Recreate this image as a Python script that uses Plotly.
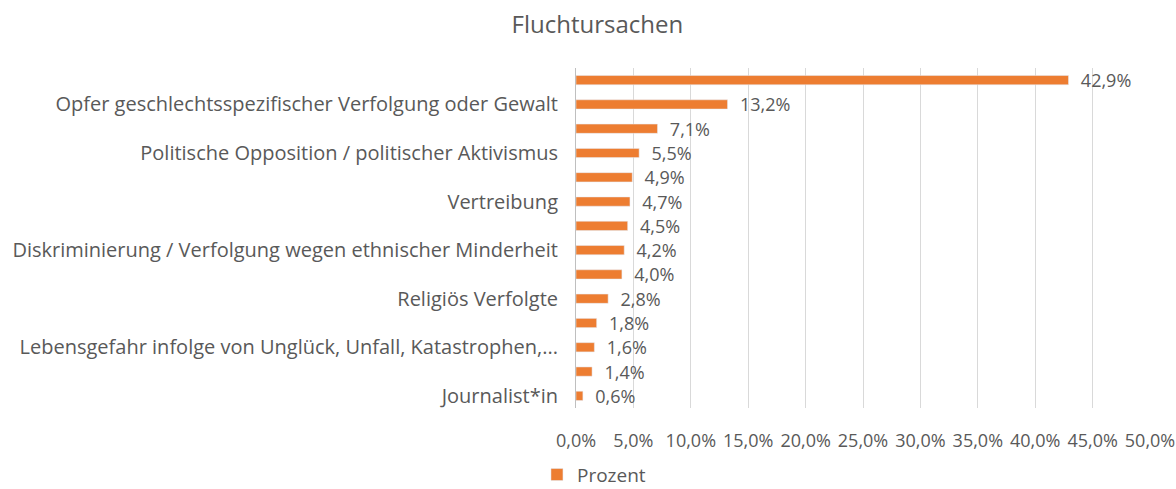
import plotly.graph_objects as go

title = "Fluchtursachen"
series_name = "Prozent"
# 14 categories top to bottom; only every other label is visible in the reference
categories = [
    None,
    "Opfer geschlechtsspezifischer Verfolgung oder Gewalt",
    None,
    "Politische Opposition / politischer Aktivismus",
    None,
    "Vertreibung",
    None,
    "Diskriminierung / Verfolgung wegen ethnischer Minderheit",
    None,
    "Religiös Verfolgte",
    None,
    "Lebensgefahr infolge von Unglück, Unfall, Katastrophen,...",
    None,
    "Journalist*in",
]
values = [42.9, 13.2, 7.1, 5.5, 4.9, 4.7, 4.5, 4.2, 4.0, 2.8, 1.8, 1.6, 1.4, 0.6]
x_ticks = [0, 5, 10, 15, 20, 25, 30, 35, 40, 45, 50]

n = len(values)
ypos = list(range(n))
labels = [f"  {v:.1f}%".replace(".", ",") for v in values]
tickvals = [i for i, c in enumerate(categories) if c]
ticktext = [c for c in categories if c]

grey = "#595959"
font = "Open Sans"

fig = go.Figure(go.Bar(
    x=values, y=ypos, orientation="h", name=series_name,
    marker=dict(color="#ED7D31"),
    text=labels, textposition="outside", cliponaxis=False, constraintext="none",
    textfont=dict(size=18, color=grey, family=font),
    showlegend=True,
))

fig.update_layout(
    width=1176, height=489,
    paper_bgcolor="white", plot_bgcolor="white",
    margin=dict(l=576, r=26, t=68, b=81, autoexpand=False),
    title=dict(text=title, x=0.508, xanchor="center", y=0.95, yanchor="middle",
               font=dict(size=24, color=grey, family=font)),
    font=dict(family=font, color=grey),
    bargap=0.62,
    legend=dict(orientation="h", x=-0.068, xanchor="left", y=-0.252, yanchor="bottom",
                font=dict(size=19, color=grey, family=font)),
)
fig.update_xaxes(
    range=[0, 50], tickvals=x_ticks,
    ticktext=[f"{t:.1f}%".replace(".", ",") for t in x_ticks],
    showgrid=True, gridcolor="#D9D9D9", gridwidth=1, zeroline=False,
    showline=False, tickfont=dict(size=18, color=grey, family=font),
    ticks="", ticklabelstandoff=20, automargin=False,
)
fig.update_yaxes(
    range=[n - 0.5, -0.5], tickvals=tickvals, ticktext=ticktext,
    showgrid=False, zeroline=False, showline=True, linecolor="#BFBFBF", linewidth=1,
    tickfont=dict(size=20, color=grey, family=font), ticks="", ticklabelstandoff=13,
    automargin=False,
)

fig.write_html("out.html", config={"displayModeBar": False},
               post_script="document.body.style.margin='0';")
